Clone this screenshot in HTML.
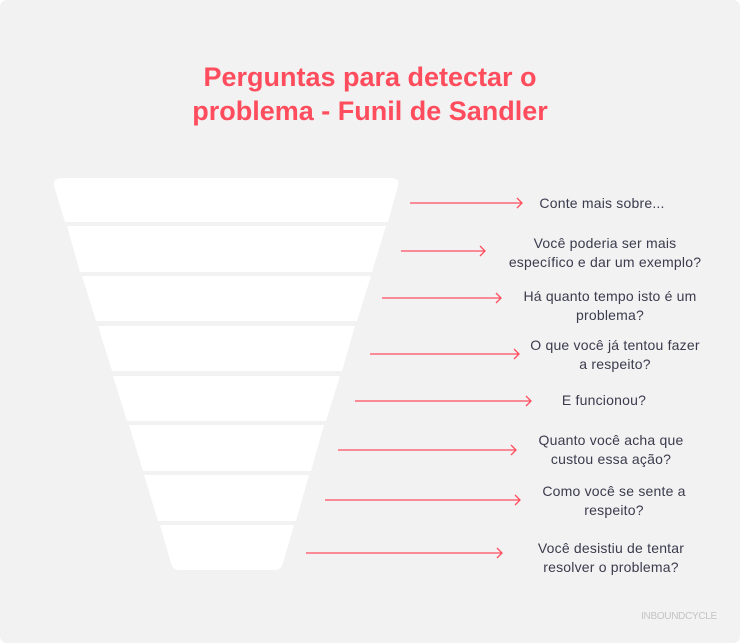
<!DOCTYPE html>
<html><head><meta charset="utf-8"><style>
html,body{margin:0;padding:0;background:#fff;}
svg{display:block;}
text{font-family:"Liberation Sans",sans-serif;}
.q{font-size:14px;fill:#3b3b4d;text-anchor:middle;letter-spacing:0.2px;}
</style></head><body>
<svg width="740" height="643" viewBox="0 0 740 643" xmlns="http://www.w3.org/2000/svg">
<rect x="0" y="0" width="740" height="643" rx="7" fill="#f2f2f2"/>
<text x="370" y="86" text-anchor="middle" font-size="27" font-weight="bold" fill="#ff4d5e">Perguntas para detectar o</text>
<text x="370" y="120" text-anchor="middle" font-size="27" font-weight="bold" fill="#ff4d5e">problema - Funil de Sandler</text>
<g fill="#ffffff">
<path d="M60 178 L392 178 Q400 179 398 186 L388 222 L65 222 L54 186 Q53 179 60 178 Z"/>
<polygon points="67,226 386,226 372,272 80,272"/>
<polygon points="82,276 371,276 357,321 96,321"/>
<polygon points="98,326 355,326 342,371 112,371"/>
<polygon points="113,376 340,376 326,421 127,421"/>
<polygon points="129,425 324,425 311,471 143,471"/>
<polygon points="144,475 309,475 296,521 158,521"/>
<path d="M160 525 L294 525 L283 563 Q281 570 275 570 L179 570 Q173 570 171 563 Z"/>
</g>
<g stroke="#ff4d5e" stroke-width="1.3" fill="none">
<path d="M410 203 H522 M517 198 L522 203 L517 208"/>
<path d="M401 251 H485 M480 246 L485 251 L480 256"/>
<path d="M382 298 H501 M496 293 L501 298 L496 303"/>
<path d="M370 354 H519 M514 349 L519 354 L514 359"/>
<path d="M355 401 H531 M526 396 L531 401 L526 406"/>
<path d="M338 450 H516 M511 445 L516 450 L511 455"/>
<path d="M325 500 H520 M515 495 L520 500 L515 505"/>
<path d="M306 553 H502 M497 548 L502 553 L497 558"/>
</g>
<text class="q" x="602" y="208">Conte mais sobre...</text>
<text class="q" x="605" y="248">Você poderia ser mais</text>
<text class="q" x="605" y="267">específico e dar um exemplo?</text>
<text class="q" x="610" y="301">Há quanto tempo isto é um</text>
<text class="q" x="610" y="320">problema?</text>
<text class="q" x="615" y="350">O que você já tentou fazer</text>
<text class="q" x="615" y="369">a respeito?</text>
<text class="q" x="604" y="405">E funcionou?</text>
<text class="q" x="611" y="445">Quanto você acha que</text>
<text class="q" x="611" y="464">custou essa ação?</text>
<text class="q" x="614" y="496">Como você se sente a</text>
<text class="q" x="614" y="515">respeito?</text>
<text class="q" x="611" y="553">Você desistiu de tentar</text>
<text class="q" x="611" y="572">resolver o problema?</text>
<text x="679" y="619" text-anchor="middle" font-size="10" fill="#c4c4c4" letter-spacing="-0.3">INBOUNDCYCLE</text>
</svg>
</body></html>
